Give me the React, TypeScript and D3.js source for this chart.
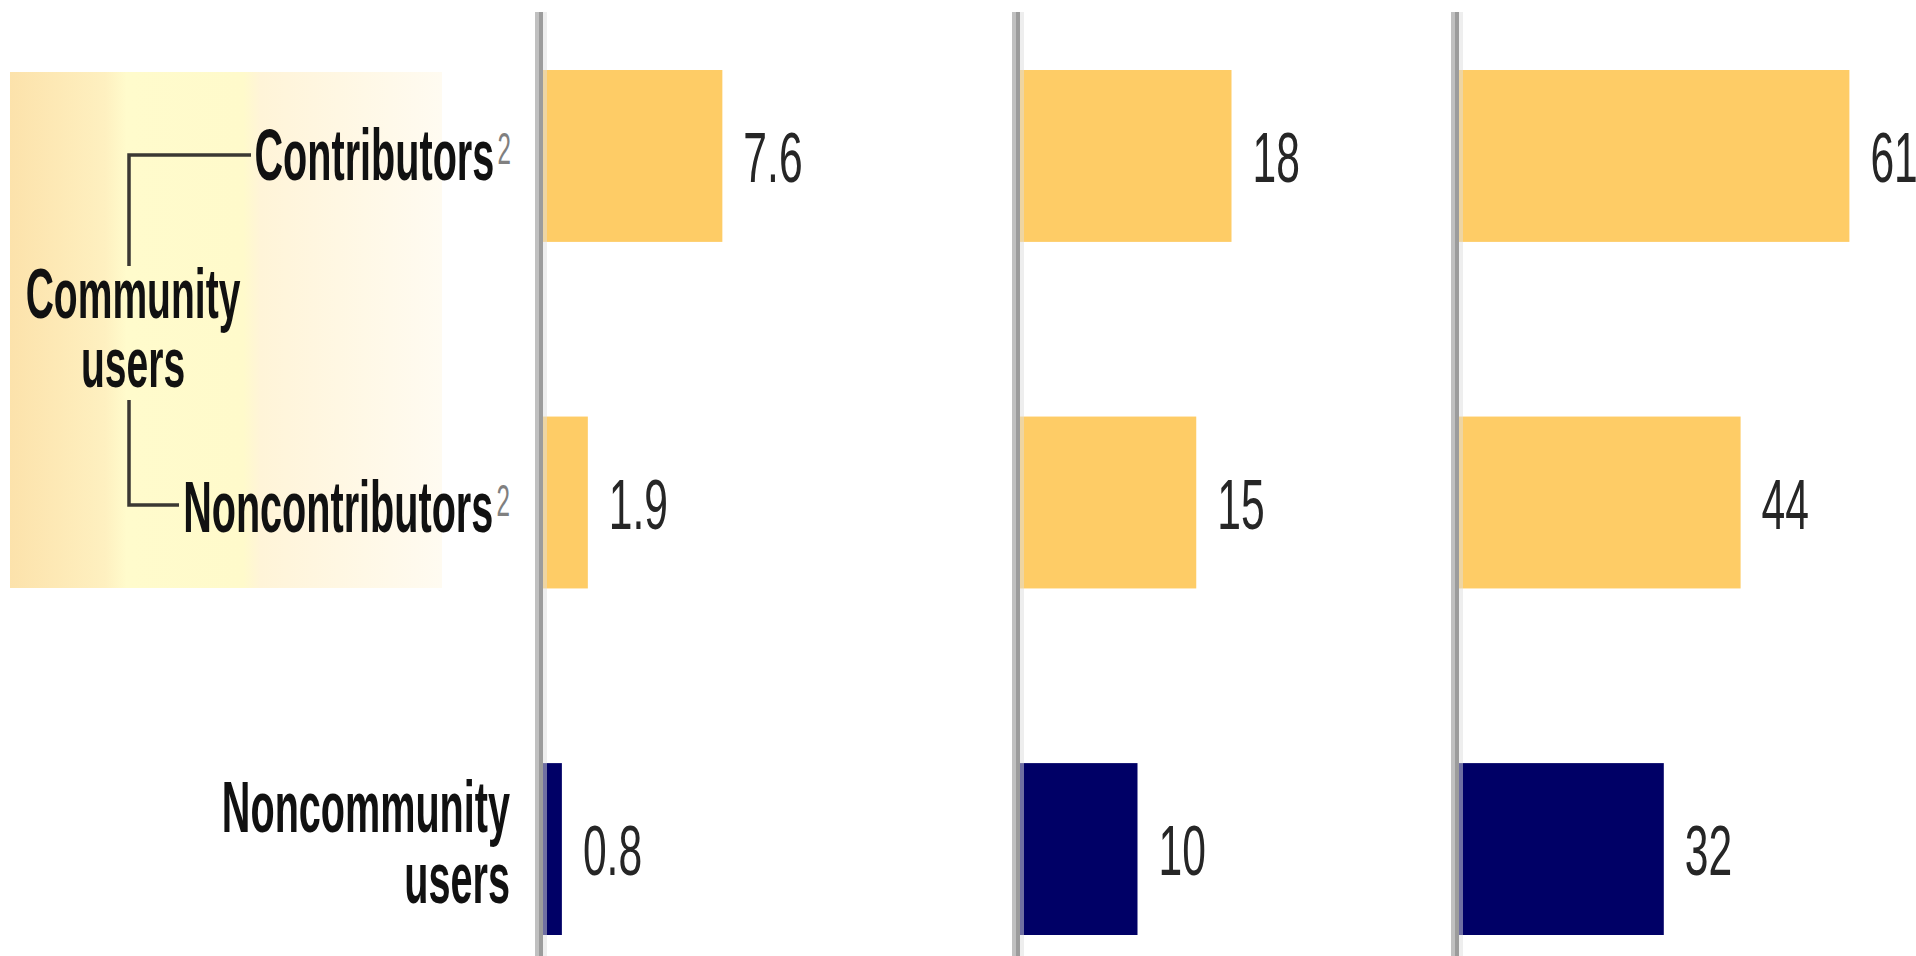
import React from "react";
import * as d3 from "d3";

// Row categories (top to bottom)
const rowKeys = ["contributors", "noncontributors", "noncommunity"];
const rowIsCommunity = [true, true, false];

// Values for the three panels, one per row
const panelAValues = [7.6, 1.9, 0.8];
const panelBValues = [18, 15, 10];
const panelCValues = [61, 44, 32];

// Label formats per panel
const panelFormats = [".1f", "d", "d"];

// Text for row labels
const contributorsLabel = "Contributors";
const noncontributorsLabel = "Noncontributors";
const footnoteMark = "2";
const communityLines = ["Community", "users"];
const noncommunityLines = ["Noncommunity", "users"];

const W = 1916;
const H = 956;
const FONT = "'Liberation Sans', Arial, Helvetica, sans-serif";
const YELLOW = "#FECC66";
const NAVY = "#000066";

// horizontal compression for the tall condensed lettering
const SX_BOLD = 0.55;
const SX_NUM = 0.6;

type CondProps = {
  x: number;
  y: number;
  anchor?: "start" | "middle" | "end";
  size: number;
  weight?: string | number;
  sx: number;
  fill?: string;
  children: React.ReactNode;
};

function CondText({ x, y, anchor = "start", size, weight = "normal", sx, fill = "#111", children }: CondProps) {
  return (
    <g transform={`translate(${x},${y}) scale(${sx},1)`}>
      <text textAnchor={anchor} fontSize={size} fontWeight={weight} fill={fill} fontFamily={FONT}>
        {children}
      </text>
    </g>
  );
}

function FootnotedLabel({ x, y, label }: { x: number; y: number; label: string }) {
  return (
    <g transform={`translate(${x},${y}) scale(${SX_BOLD},1)`}>
      <text textAnchor="end" fontSize={72} fontWeight="bold" fill="#111" fontFamily={FONT}>
        <tspan>{label}</tspan>
        <tspan fontSize={44} fontWeight="normal" fill="#808080" dx={6} dy={-16}>
          {footnoteMark}
        </tspan>
      </text>
    </g>
  );
}

export default function App() {
  const rowScale = d3
    .scaleBand<string>()
    .domain(rowKeys)
    .range([70, 935])
    .paddingInner(0.504)
    .paddingOuter(0);

  const panels = [
    { values: panelAValues, axisX: 541, max: 10, span: 236, fmt: panelFormats[0] },
    { values: panelBValues, axisX: 1018, max: 20, span: 235, fmt: panelFormats[1] },
    { values: panelCValues, axisX: 1457, max: 70, span: 448, fmt: panelFormats[2] },
  ].map((p) => ({
    ...p,
    x: d3.scaleLinear().domain([0, p.max]).range([p.axisX + 2, p.axisX + 2 + p.span]),
    format: d3.format(p.fmt),
  }));

  const bw = rowScale.bandwidth();
  const center = (k: string) => (rowScale(k) ?? 0) + bw / 2;

  const bracketX = 129;
  const yContrib = 155;
  const yNoncontrib = 505;

  return (
    <svg
      width={W}
      height={H}
      viewBox={`0 0 ${W} ${H}`}
      style={{ position: "absolute", left: 0, top: 0, display: "block", background: "#fff" }}
    >
      <defs>
        <linearGradient id="communityBg" x1="0" x2="1" y1="0" y2="0">
          <stop offset="0" stopColor="#FCE2AB" />
          <stop offset="0.22" stopColor="#FEF0C0" />
          <stop offset="0.27" stopColor="#FFFBCC" />
          <stop offset="0.54" stopColor="#FFFACB" />
          <stop offset="0.58" stopColor="#FFF4D8" />
          <stop offset="1" stopColor="#FFFBF1" />
        </linearGradient>
      </defs>

      {/* shaded block behind the community-user labels */}
      <rect x={10} y={72} width={432} height={516} fill="url(#communityBg)" />

      {/* bracket joining the two community rows */}
      <g stroke="#3b3833" strokeWidth={3.5} fill="none">
        <path d={`M${bracketX},266 V${yContrib} H251`} />
        <path d={`M${bracketX},400 V${yNoncontrib} H179`} />
      </g>

      {/* row labels */}
      <FootnotedLabel x={511} y={180} label={contributorsLabel} />
      <FootnotedLabel x={510} y={532} label={noncontributorsLabel} />
      {communityLines.map((t, i) => (
        <CondText key={t} x={133} y={318 + i * 69} anchor="middle" size={71} weight="bold" sx={SX_BOLD}>
          {t}
        </CondText>
      ))}
      {noncommunityLines.map((t, i) => (
        <CondText key={t} x={510} y={832 + i * 71} anchor="end" size={72} weight="bold" sx={SX_BOLD}>
          {t}
        </CondText>
      ))}

      {/* panels: bars, value labels, baseline */}
      {panels.map((p, pi) => (
        <g key={pi}>
          {p.values.map((v, i) => {
            const k = rowKeys[i];
            const x0 = p.x(0);
            const x1 = p.x(v);
            return (
              <g key={k}>
                <rect
                  x={x0}
                  y={rowScale(k)}
                  width={x1 - x0}
                  height={bw}
                  fill={rowIsCommunity[i] ? YELLOW : NAVY}
                />
                <CondText x={x1 + 21} y={center(k) + 26} size={71} sx={SX_NUM} fill="#262626">
                  {p.format(v)}
                </CondText>
              </g>
            );
          })}
          <line x1={p.axisX - 4} x2={p.axisX - 4} y1={12} y2={H} stroke="#c0c0c0" strokeWidth={4} />
          <line x1={p.axisX} x2={p.axisX} y1={12} y2={H} stroke="#9c9c9c" strokeWidth={4} />
          <line x1={p.axisX + 4} x2={p.axisX + 4} y1={12} y2={H} stroke="#ddd" strokeWidth={4} strokeOpacity={0.5} />
        </g>
      ))}
    </svg>
  );
}
